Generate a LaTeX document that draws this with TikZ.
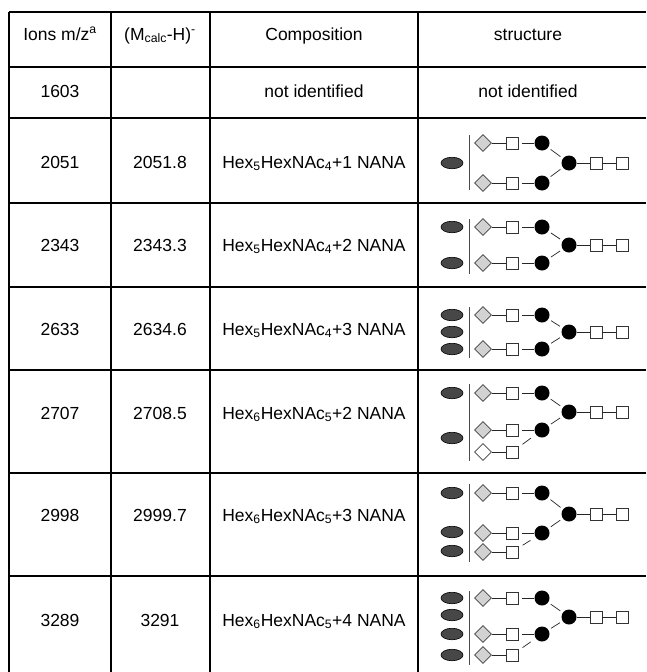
\documentclass[tikz,border=0pt]{standalone}
\usepackage{fontspec}
\setmainfont{Liberation Sans}
\usetikzlibrary{shapes.geometric}
\newcommand\gbranch[3]{%
  \node[dia,#3] (#1d) at (483,#2) {};
  \node[sq] (#1s) at (512,#2) {};
  \node[bc] (#1c) at (542,#2) {};
  \draw[lk] (#1d) -- (#1s);
  \draw[lk,shorten <=4pt] (#1s) -- (#1c);
}
\newcommand\gstub[4]{%
  \node[dia,#3] (#1d) at (483,#2) {};
  \node[sq] (#1s) at (512,#2) {};
  \draw[lk] (#1d) -- (#1s);
  \draw[lk,shorten <=5pt,shorten >=6pt] (#1s) -- (#4);
}
\newcommand\gcore[2]{%
  \node[bc] (#1m) at (569,#2) {};
  \node[sq] (#1r) at (596,#2) {};
  \node[sq] (#1t) at (622,#2) {};
  \draw[lk] (#1m) -- (#1r);
  \draw[lk] (#1r) -- (#1t);
}
\begin{document}
\begin{tikzpicture}[x=1pt,y=-1pt,
  txt/.style={font=\fontsize{17.5}{20}\selectfont, anchor=base, inner sep=0pt},
  hrule/.style={line width=1.9pt},
  vrule/.style={line width=1.4pt},
  dia/.style={diamond, draw=black!75, fill=gray!35, line width=0.7pt, minimum size=17pt, inner sep=0pt},
  hollow/.style={fill=white},
  sq/.style={rectangle, draw=black!80, fill=white, line width=0.8pt, minimum size=12pt, inner sep=0pt},
  bc/.style={circle, fill=black, minimum size=15pt, inner sep=0pt},
  el/.style={ellipse, draw=black, fill=black!72, line width=0.6pt, minimum width=22pt, minimum height=11.5pt, inner sep=0pt},
  lk/.style={line width=0.7pt, black!85},
  bar/.style={line width=1pt, black!70}]
\useasboundingbox (0,0) rectangle (646,672);
% table rules
\foreach \yy in {12,67,118,203,287,370,473,576} {\draw[hrule] (9,\yy) -- (646,\yy);}
\foreach \xx in {9,111,210,418} {\draw[vrule] (\xx,12) -- (\xx,672);}
% header
\node[txt] (h1) at (60,40) {Ions m/z\textsuperscript{a}};
\node[txt] (h2) at (160,40) {(M\textsubscript{calc}-H)\textsuperscript{-}};
\node[txt] (h3) at (314,40) {Composition};
\node[txt] (h4) at (528,40) {structure};
% row 1603
\node[txt] (a1) at (60,97) {1603};
\node[txt] (a3) at (314,97) {not identified};
\node[txt] (a4) at (528,97) {not identified};
% data rows
\node[txt] (b1) at (60,168) {2051};
\node[txt] (b2) at (160,168) {2051.8};
\node[txt] (b3) at (314,168) {Hex\textsubscript{5}HexNAc\textsubscript{4}+1 NANA};
\node[txt] (c1) at (60,251) {2343};
\node[txt] (c2) at (160,251) {2343.3};
\node[txt] (c3) at (314,251) {Hex\textsubscript{5}HexNAc\textsubscript{4}+2 NANA};
\node[txt] (d1) at (60,335) {2633};
\node[txt] (d2) at (160,335) {2634.6};
\node[txt] (d3) at (314,335) {Hex\textsubscript{5}HexNAc\textsubscript{4}+3 NANA};
\node[txt] (e1) at (60,419) {2707};
\node[txt] (e2) at (160,419) {2708.5};
\node[txt] (e3) at (314,419) {Hex\textsubscript{6}HexNAc\textsubscript{5}+2 NANA};
\node[txt] (f1) at (60,521) {2998};
\node[txt] (f2) at (160,521) {2999.7};
\node[txt] (f3) at (314,521) {Hex\textsubscript{6}HexNAc\textsubscript{5}+3 NANA};
\node[txt] (g1) at (60,626) {3289};
\node[txt] (g2) at (160,626) {3291};
\node[txt] (g3) at (314,626) {Hex\textsubscript{6}HexNAc\textsubscript{5}+4 NANA};
% structure 2051
\node[el] (Be1) at (452,163) {};
\coordinate (Bb1) at (469,135); \coordinate (Bb2) at (469,190);
\draw[bar] (Bb1) -- (Bb2);
\gbranch{Bu}{143}{}
\gbranch{Bl}{183}{}
\gcore{B}{163}
\draw[lk,shorten <=3pt,shorten >=3pt] (Buc) -- (Bm);
\draw[lk,shorten <=3pt,shorten >=3pt] (Blc) -- (Bm);
% structure 2343
\node[el] (Ce1) at (452,227) {};
\node[el] (Ce2) at (452,263) {};
\coordinate (Cb1) at (469,219); \coordinate (Cb2) at (469,274);
\draw[bar] (Cb1) -- (Cb2);
\gbranch{Cu}{227}{}
\gbranch{Cl}{263}{}
\gcore{C}{245}
\draw[lk,shorten <=3pt,shorten >=3pt] (Cuc) -- (Cm);
\draw[lk,shorten <=3pt,shorten >=3pt] (Clc) -- (Cm);
% structure 2633
\node[el] (De1) at (452,315) {};
\node[el] (De2) at (452,332) {};
\node[el] (De3) at (452,349) {};
\coordinate (Db1) at (469,307); \coordinate (Db2) at (469,358);
\draw[bar] (Db1) -- (Db2);
\gbranch{Du}{315}{}
\gbranch{Dl}{349}{}
\gcore{D}{332}
\draw[lk,shorten <=3pt,shorten >=3pt] (Duc) -- (Dm);
\draw[lk,shorten <=3pt,shorten >=3pt] (Dlc) -- (Dm);
% structure 2707
\node[el] (Ee1) at (452,393) {};
\node[el] (Ee2) at (452,438) {};
\coordinate (Eb1) at (469,384); \coordinate (Eb2) at (469,461);
\draw[bar] (Eb1) -- (Eb2);
\gbranch{Eu}{393}{}
\gbranch{El}{430}{}
\gcore{E}{412}
\draw[lk,shorten <=3pt,shorten >=3pt] (Euc) -- (Em);
\draw[lk,shorten <=3pt,shorten >=3pt] (Elc) -- (Em);
\gstub{Ex}{452}{hollow}{Elc}
% structure 2998
\node[el] (Fe1) at (452,493) {};
\node[el] (Fe2) at (452,532) {};
\node[el] (Fe3) at (452,551) {};
\coordinate (Fb1) at (469,484); \coordinate (Fb2) at (469,562);
\draw[bar] (Fb1) -- (Fb2);
\gbranch{Fu}{493}{}
\gbranch{Fl}{533}{}
\gcore{F}{514}
\draw[lk,shorten <=3pt,shorten >=3pt] (Fuc) -- (Fm);
\draw[lk,shorten <=3pt,shorten >=3pt] (Flc) -- (Fm);
\gstub{Fx}{552}{}{Flc}
% structure 3289
\node[el] (Ge1) at (452,598) {};
\node[el] (Ge2) at (452,615) {};
\node[el] (Ge3) at (452,634) {};
\node[el] (Ge4) at (452,655) {};
\coordinate (Gb1) at (469,591); \coordinate (Gb2) at (469,665);
\draw[bar] (Gb1) -- (Gb2);
\gbranch{Gu}{598}{}
\gbranch{Gl}{634}{}
\gcore{G}{617}
\draw[lk,shorten <=3pt,shorten >=3pt] (Guc) -- (Gm);
\draw[lk,shorten <=3pt,shorten >=3pt] (Glc) -- (Gm);
\gstub{Gx}{655}{}{Glc}
\end{tikzpicture}
\end{document}
